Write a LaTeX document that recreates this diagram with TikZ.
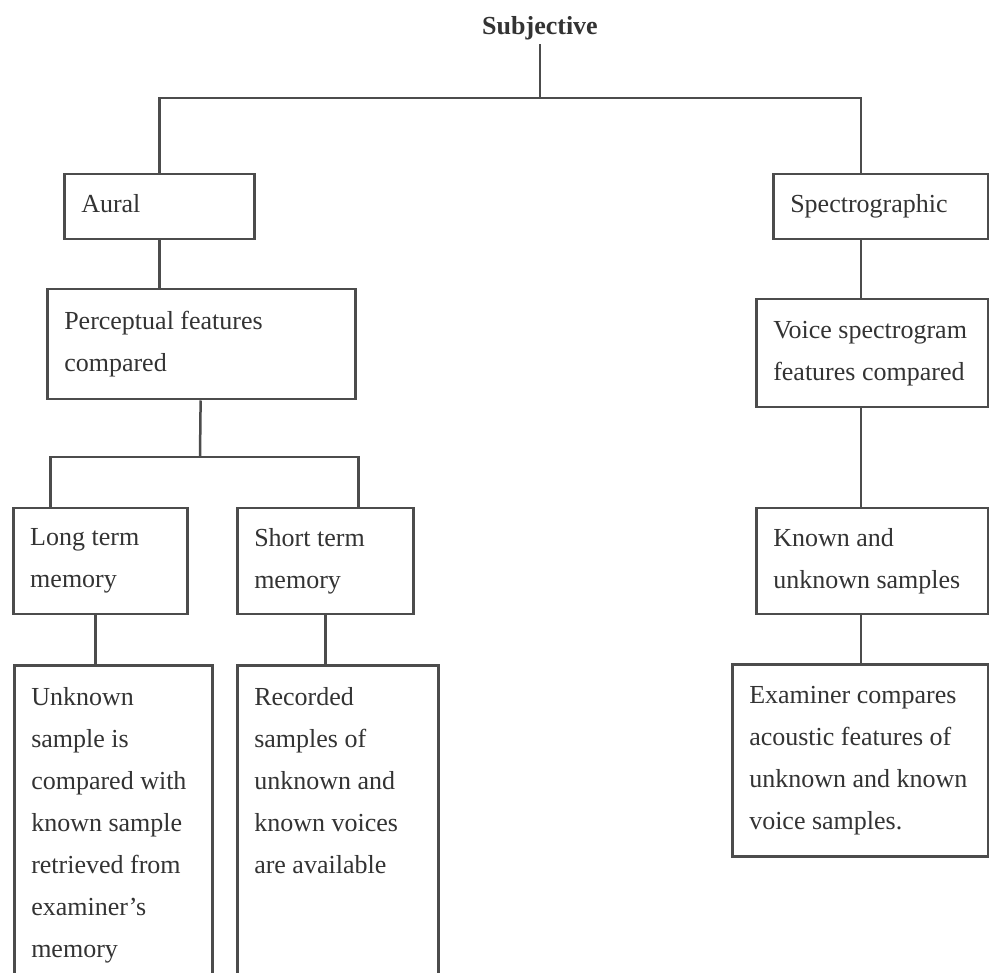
\documentclass[tikz,border=0pt]{standalone}
\usepackage{fontspec}
\setmainfont{Liberation Serif}
\usetikzlibrary{positioning}

\begin{document}
\begin{tikzpicture}[x=1pt,y=-1pt,
black!70,
box/.style ={draw, anchor=north west, align=flush left, inner xsep=17pt, inner ysep=4pt,
  text=black!80, font=\fontsize{26}{42}\selectfont},
oneline/.style ={box, text height=18pt, text depth=6pt},
leaf/.style ={box, inner ysep=20pt, text height=20pt, text depth=300pt},
link/.style = {draw, line width=2.5pt}]

\useasboundingbox (0,0) rectangle (989,973);
\clip (0,0) rectangle (989,973);
\fill[white] (0,0) rectangle (989,973);

\tikzset{every node/.append style={line width=2.5pt}}

\node[text=black!80, font=\fontsize{26}{30}\selectfont\bfseries] (subj) at (540,28) {Subjective};

\node[oneline, text width=156pt, minimum height=65pt] (aural) at (63,173) {Aural};
\node[oneline, text width=181pt, minimum height=65pt] (spectro) at (772,173) {Spectrographic};

\node[box, text width=274pt, minimum height=110pt] (percept) at (46,288) {Perceptual features\\compared};
\node[box, text width=198pt, minimum height=108pt] (voice) at (755,298) {Voice spectrogram\\features compared};

\node[box, text width=140pt, minimum height=106pt] (longterm) at (12,507) {Long term\\memory};
\node[box, text width=142pt, minimum height=106pt] (shortterm) at (236,507) {Short term\\memory};
\node[box, text width=198pt, minimum height=106pt] (known) at (755,507) {Known and\\unknown samples};

\node[leaf, text width=164pt] (unknown) at (13,664) {Unknown\\sample is\\compared with\\known sample\\retrieved from\\examiner's\\memory};
\node[leaf, text width=167pt] (recorded) at (236,664) {Recorded\\samples of\\unknown and\\known voices\\are available};
\node[box, text width=222pt, minimum height=192pt] (examiner) at (731,663) {Examiner compares\\acoustic features of\\unknown and known\\voice samples.};

\coordinate (top) at (540,98);
\coordinate (split) at (200,457);
\coordinate (rspine) at (861,0);

\draw[link] (subj) -- (top);
\draw[link] (top) -| (aural);
\draw[link] (top) -| (spectro.north -| rspine);

\draw[link] (aural) -- (aural.south |- percept.north);
\draw[link] (percept) -- (split);
\draw[link] (split) -| ([xshift=-50pt]longterm.north);
\draw[link] (split) -| ([xshift=33pt]shortterm.north);
\draw[link] ([xshift=-5pt]longterm.south) -- ([xshift=-5pt]longterm.south |- unknown.north);
\draw[link] (shortterm.south) -- (shortterm.south |- recorded.north);

\draw[link] (spectro.south -| rspine) -- (voice.north -| rspine);
\draw[link] (voice.south -| rspine) -- (known.north -| rspine);
\draw[link] (known.south -| rspine) -- (examiner.north -| rspine);

\end{tikzpicture}
\end{document}
